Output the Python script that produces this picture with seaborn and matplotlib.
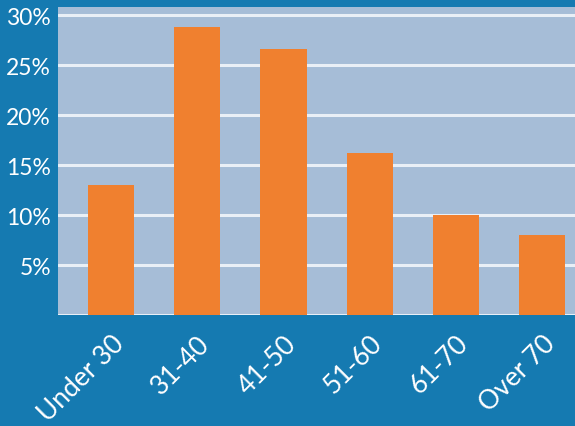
import matplotlib
matplotlib.use("Agg")
import matplotlib.pyplot as plt
import seaborn as sns
import pandas as pd
from matplotlib.ticker import FuncFormatter

# Age groups and their share of respondents (%)
age_groups = ["Under 30", "31-40", "41-50", "51-60", "61-70", "Over 70"]
shares = [13.0, 28.8, 26.6, 16.2, 10.0, 8.0]
y_ticks = [5, 10, 15, 20, 25, 30]

df = pd.DataFrame({"age": age_groups, "share": shares})

sns.set_theme(style="white")
plt.rcParams["font.family"] = ["Lato", "DejaVu Sans"]

BG = "#157ab1"
PANEL = "#a6bdd7"
BAR = "#f0802f"
GRID = "#e9eff6"

fig = plt.figure(figsize=(5.75, 4.27), dpi=100, facecolor=BG)
ax = fig.add_axes([58 / 575, 1 - 316 / 427, 1 - 58 / 575, (316 - 8) / 427])
ax.set_facecolor(PANEL)

sns.barplot(data=df, x="age", y="share", color=BAR, saturation=1,
            width=0.535, ax=ax, zorder=3, edgecolor=BAR, linewidth=0)

ax.set_ylim(0, 30.85)
ax.set_xlim(-0.615, 5.38)
ax.set_yticks(y_ticks)
ax.yaxis.set_major_formatter(FuncFormatter(lambda v, p: f"{v:.0f}%"))
for v in [0] + y_ticks:
    ax.axhline(v, color=GRID, lw=2.2, zorder=1)

for s in ax.spines.values():
    s.set_visible(False)
ax.tick_params(axis="both", length=0, colors="white")
ax.tick_params(axis="y", pad=5)
ax.tick_params(axis="x", pad=11)
ax.set_xlabel("")
ax.set_ylabel("")
for lbl in ax.get_yticklabels():
    lbl.set_fontsize(16.5)
for lbl in ax.get_xticklabels():
    lbl.set_rotation(45)
    lbl.set_ha("right")
    lbl.set_rotation_mode("anchor")
    lbl.set_fontsize(19)

fig.savefig("out.png", dpi=100, facecolor=BG)
